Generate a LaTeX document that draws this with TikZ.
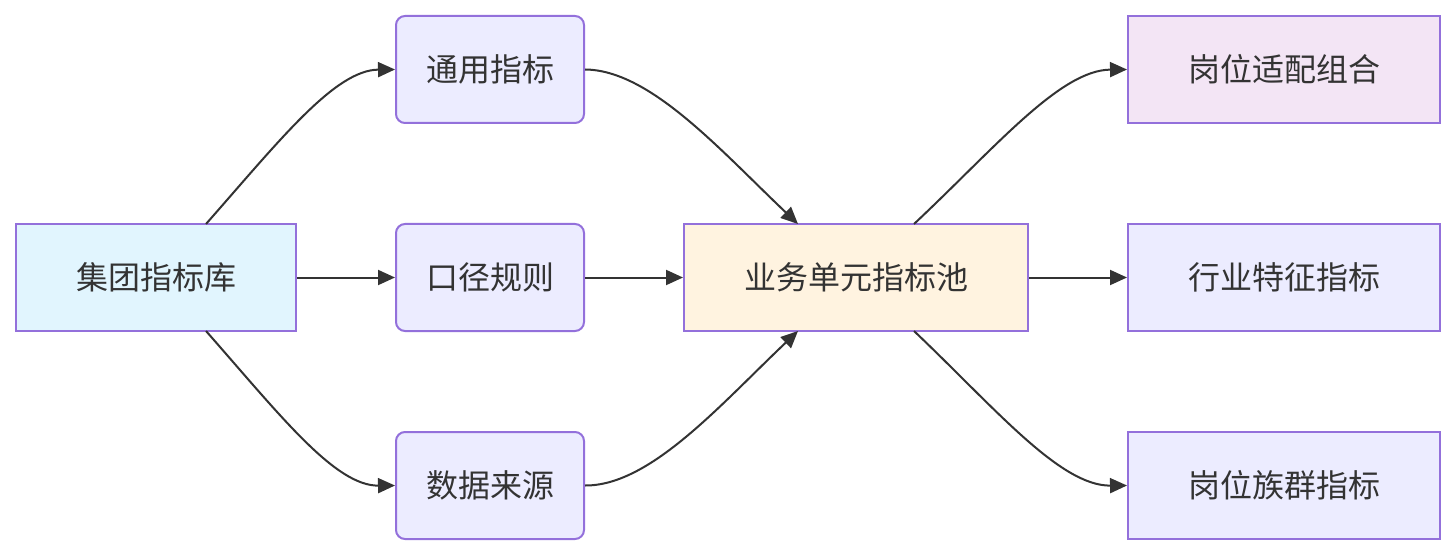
\documentclass[tikz,border=0pt]{standalone}
\usepackage{fontspec}
\setmainfont{Noto Sans CJK SC}
\usetikzlibrary{arrows.meta}
\definecolor{bord}{HTML}{9370DB}
\definecolor{cyanf}{HTML}{E1F5FE}
\definecolor{lavf}{HTML}{ECECFF}
\definecolor{yelf}{HTML}{FFF3E0}
\definecolor{pinkf}{HTML}{F3E5F5}
\definecolor{ink}{HTML}{333333}
\tikzset{
  box/.style={draw=bord, line width=2pt, inner sep=0pt, text=ink,
    font=\fontsize{32}{37}\selectfont, minimum height=107pt},
  rbox/.style={box, rounded corners=9pt, fill=lavf, minimum width=188pt},
  conn/.style={draw=ink, line width=2pt, -{Triangle[length=17pt,width=15pt]}},
}
\begin{document}
\begin{tikzpicture}[x=1pt,y=-1pt]
\useasboundingbox (0,0) rectangle (1456,556);
\node[box, fill=cyanf, minimum width=280pt] (lib) at (156,277.5) {集团指标库};
\node[rbox] (gen) at (490,69.5) {通用指标};
\node[rbox] (rule) at (490,277.5) {口径规则};
\node[rbox] (data) at (490,485.5) {数据来源};
\node[box, fill=yelf, minimum width=344pt] (pool) at (856,277.5) {业务单元指标池};
\node[box, fill=pinkf, minimum width=312pt] (fit) at (1284,69.5) {岗位适配组合};
\node[box, fill=lavf, minimum width=312pt] (ind) at (1284,277.5) {行业特征指标};
\node[box, fill=lavf, minimum width=312pt] (fam) at (1284,485.5) {岗位族群指标};
\coordinate (libT) at (206,224);
\coordinate (libB) at (206,331);
\coordinate (poolTL) at (798,224);
\coordinate (poolBL) at (798,331);
\coordinate (poolTR) at (914,224);
\coordinate (poolBR) at (914,331);
\draw[conn] (libT) .. controls (280,140) and (335,70) .. (gen.west);
\draw[conn] (libB) .. controls (280,415) and (335,486) .. (data.west);
\draw[conn] (lib.east) -- (rule.west);
\draw[conn] (gen.east) .. controls (650,70) and (720,150) .. (poolTL);
\draw[conn] (data.east) .. controls (650,486) and (720,405) .. (poolBL);
\draw[conn] (rule.east) -- (pool.west);
\draw[conn] (poolTR) .. controls (995,148) and (1060,70) .. (fit.west);
\draw[conn] (poolBR) .. controls (995,408) and (1060,486) .. (fam.west);
\draw[conn] (pool.east) -- (ind.west);
\end{tikzpicture}
\end{document}
